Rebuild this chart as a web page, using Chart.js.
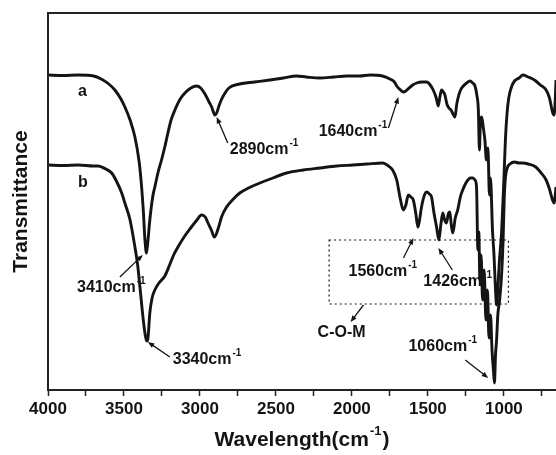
<!DOCTYPE html>
<html>
<head>
<meta charset="utf-8">
<script src="https://cdn.jsdelivr.net/npm/chart.js@4.4.1/dist/chart.umd.min.js"></script>
<style>
  html, body { margin: 0; padding: 0; background: #fff; }
  #wrap { width: 556px; height: 455px; }
</style>
</head>
<body>
<div id="wrap"><canvas id="irChart" width="556" height="455"></canvas></div>
<script>
// FTIR spectra: wavenumber (cm-1) and transmittance (arbitrary units)
const waveA = [4000, 3900, 3800, 3700, 3650, 3600, 3560, 3520, 3494, 3460, 3428, 3400, 3385, 3373, 3362, 3352, 3345, 3330, 3310, 3297,
  3275, 3253, 3230, 3211, 3190, 3165, 3130, 3099, 3060, 3022, 2995, 2967, 2940, 2923, 2901, 2890, 2875, 2860, 2835, 2810,
  2740, 2640, 2540, 2450, 2365, 2300, 2210, 2120, 2035, 1950, 1880, 1800, 1750, 1720, 1705, 1680, 1662, 1645, 1631, 1600,
  1574, 1540, 1508, 1485, 1465, 1445, 1432, 1420, 1410, 1398, 1388, 1375, 1366, 1355, 1344, 1335, 1322, 1310, 1300, 1285,
  1267, 1245, 1223, 1205, 1190, 1178, 1168, 1161, 1155, 1146, 1135, 1125, 1115, 1105, 1095, 1088, 1075, 1065, 1055, 1048,
  1040, 1030, 1015, 1000, 990, 980, 968, 950, 930, 900, 875, 840, 810, 790, 760, 722, 700, 680, 670, 662, 657];
const transA = [315, 314.5, 315, 314, 311, 306, 300, 291, 283, 270, 253, 228, 205, 180, 150, 137, 145, 170, 194, 203,
  218, 230, 244, 257, 270, 280, 291, 297, 302, 304, 302, 296, 288, 283, 275, 277, 284, 290, 297, 302,
  306, 308, 310, 312, 314, 313, 312, 313, 314, 314, 315, 314, 311, 308, 304, 300, 298, 299, 301, 305,
  307, 308, 308, 305, 300, 292, 284, 294, 300, 298, 295, 286, 283, 281, 279, 276, 273, 286, 293, 300,
  304, 307, 309, 307, 304, 295, 280, 240, 265, 273, 262, 250, 230, 242, 195, 212, 160, 135, 100, 85,
  100, 128, 158, 210, 250, 275, 292, 303, 309, 312, 315, 313, 311, 309, 305, 300, 292, 278, 275, 290, 310];

const waveB = [4000, 3900, 3800, 3700, 3670, 3620, 3581, 3550, 3515, 3490, 3460, 3428, 3410, 3395, 3373, 3360, 3350, 3342, 3330, 3315,
  3297, 3270, 3231, 3200, 3170, 3145, 3100, 3056, 3020, 2990, 2965, 2947, 2925, 2905, 2895, 2875, 2858, 2825, 2780, 2738,
  2680, 2606, 2520, 2430, 2320, 2210, 2100, 1995, 1900, 1797, 1760, 1732, 1705, 1684, 1662, 1645, 1629, 1612, 1596, 1580,
  1566, 1555, 1542, 1520, 1508, 1490, 1476, 1460, 1443, 1428, 1415, 1402, 1390, 1378, 1366, 1356, 1346, 1336, 1320, 1304,
  1285, 1271, 1250, 1237, 1220, 1204, 1190, 1180, 1171, 1165, 1158, 1150, 1140, 1130, 1118, 1108, 1098, 1088, 1078, 1068,
  1062, 1055, 1048, 1040, 1028, 1015, 1005, 998, 990, 978, 960, 930, 900, 875, 840, 790, 760, 722, 700, 680, 668, 662, 657];
const transB = [225, 224.5, 225, 224, 224, 221, 217, 209, 197, 185, 170, 143, 125, 103, 70, 55, 49, 52, 77, 92,
  100, 107, 114, 125, 136, 143, 154, 163, 170, 175, 173, 167, 160, 153, 155, 164, 173, 183, 191, 197,
  202, 207, 212, 217, 220, 222, 224, 225, 226, 227, 224, 220, 210, 193, 180, 185, 195, 193, 190, 177,
  163, 170, 183, 196, 198, 196, 193, 177, 163, 150, 165, 177, 170, 167, 176, 178, 165, 157, 172, 180,
  194, 200, 207, 210, 212, 212, 210, 203, 140, 158, 110, 135, 90, 120, 70, 100, 52, 75, 40, 18,
  7, 35, 50, 75, 90, 115, 150, 190, 212, 222, 226, 228, 227, 227, 226, 223, 218, 210, 201, 190, 187, 195, 203];

const xMajorTicks = [4000, 3500, 3000, 2500, 2000, 1500, 1000];
const xMinorTicks = [3750, 3250, 2750, 2250, 1750, 1250, 750];

const FONT = "'Liberation Sans', Arial, Helvetica, sans-serif";
const INK = '#141414';

// label text, superscript, text anchor (wavenumber, T) and arrow from -> to
const notes = [
  { text: 'a', sup: '', at: [3803, 298] },
  { text: 'b', sup: '', at: [3803, 207] },
  { text: '2890cm', sup: '-1', at: [2804, 240], arrow: [2817, 247, 2890, 273] },
  { text: '1640cm', sup: '-1', at: [2219, 258], arrow: [1760, 262, 1694, 293] },
  { text: '3410cm', sup: '-1', at: [3809, 102], arrow: [3527, 113, 3376, 135] },
  { text: '3340cm', sup: '-1', at: [3179, 30], arrow: [3198, 33, 3343, 48] },
  { text: '1560cm', sup: '-1', at: [2022, 118], arrow: [1661, 132, 1595, 152] },
  { text: '1426cm', sup: '-1', at: [1530, 108], arrow: [1339, 120, 1431, 142] },
  { text: 'C-O-M', sup: '', at: [2226, 57], arrow: [1924, 85, 2009, 68] },
  { text: '1060cm', sup: '-1', at: [1628, 43], arrow: [1254, 30, 1103, 12] }
];
const boxRange = { x1: 2150, x2: 970, y1: 150, y2: 86 };

function toXY(xs, ys) {
  return xs.map((x, i) => ({ x: x, y: ys[i] }));
}

function drawArrow(ctx, x1, y1, x2, y2) {
  const ang = Math.atan2(y2 - y1, x2 - x1);
  const head = 7;
  ctx.beginPath();
  ctx.moveTo(x1, y1);
  ctx.lineTo(x2 - Math.cos(ang) * head * 0.8, y2 - Math.sin(ang) * head * 0.8);
  ctx.stroke();
  ctx.beginPath();
  ctx.moveTo(x2, y2);
  ctx.lineTo(x2 - head * Math.cos(ang - 0.38), y2 - head * Math.sin(ang - 0.38));
  ctx.lineTo(x2 - head * Math.cos(ang + 0.38), y2 - head * Math.sin(ang + 0.38));
  ctx.closePath();
  ctx.fill();
}

// text with a small raised part, e.g. cm-1
function drawSupText(ctx, x, y, text, sup, size) {
  ctx.font = 'bold ' + size + 'px ' + FONT;
  ctx.textBaseline = 'middle';
  ctx.textAlign = 'left';
  ctx.fillText(text, x, y);
  const w = ctx.measureText(text).width;
  if (sup) {
    ctx.font = 'bold ' + Math.round(size * 0.6) + 'px ' + FONT;
    ctx.fillText(sup, x + w + 1, y - size * 0.42);
    return w + 1 + ctx.measureText(sup).width;
  }
  return w;
}

const notesPlugin = {
  id: 'notes',
  beforeDatasetsDraw(chart) {
    const { ctx, scales: { x, y } } = chart;
    ctx.save();
    ctx.fillStyle = INK;
    ctx.strokeStyle = INK;
    notes.forEach(n => {
      drawSupText(ctx, x.getPixelForValue(n.at[0]), y.getPixelForValue(n.at[1]), n.text, n.sup, 16);
    });
    ctx.restore();
  },
  afterDatasetsDraw(chart) {
    const { ctx, chartArea: area, scales: { x, y } } = chart;
    ctx.save();
    ctx.fillStyle = INK;
    ctx.strokeStyle = INK;
    ctx.lineWidth = 1.3;
    notes.forEach(n => {
      if (!n.arrow) return;
      const a = n.arrow;
      drawArrow(ctx, x.getPixelForValue(a[0]), y.getPixelForValue(a[1]),
        x.getPixelForValue(a[2]), y.getPixelForValue(a[3]));
    });

    // dotted C-O-M box
    ctx.setLineDash([2, 3]);
    ctx.lineWidth = 1.2;
    const bx1 = x.getPixelForValue(boxRange.x1), bx2 = x.getPixelForValue(boxRange.x2);
    const by1 = y.getPixelForValue(boxRange.y1), by2 = y.getPixelForValue(boxRange.y2);
    ctx.strokeRect(bx1, by1, bx2 - bx1, by2 - by1);
    ctx.setLineDash([]);

    // frame: top, left, bottom
    ctx.lineWidth = 2;
    ctx.strokeStyle = '#222';
    ctx.beginPath();
    ctx.moveTo(area.right, area.top);
    ctx.lineTo(area.left, area.top);
    ctx.lineTo(area.left, area.bottom);
    ctx.lineTo(area.right, area.bottom);
    ctx.stroke();

    // x axis title with superscript
    ctx.fillStyle = INK;
    const cx = (area.left + area.right) / 2;
    ctx.font = 'bold 21px ' + FONT;
    const w1 = ctx.measureText('Wavelength(cm').width;
    ctx.font = 'bold 13px ' + FONT;
    const w2 = ctx.measureText('-1').width + 2;
    ctx.font = 'bold 21px ' + FONT;
    const w3 = ctx.measureText(')').width;
    let tx = cx - (w1 + w2 + w3) / 2;
    const ty = 440;
    drawSupText(ctx, tx, ty, 'Wavelength(cm', '-1', 21);
    ctx.font = 'bold 21px ' + FONT;
    ctx.fillText(')', tx + w1 + w2, ty);
    ctx.restore();
  }
};

const ctx = document.getElementById('irChart').getContext('2d');

new Chart(ctx, {
  type: 'line',
  data: {
    datasets: [{
      label: 'a',
      data: toXY(waveA, transA),
      borderColor: INK,
      borderWidth: 2.9,
      pointRadius: 0,
      cubicInterpolationMode: 'monotone',
      fill: false
    }, {
      label: 'b',
      data: toXY(waveB, transB),
      borderColor: INK,
      borderWidth: 2.9,
      pointRadius: 0,
      cubicInterpolationMode: 'monotone',
      fill: false
    }]
  },
  options: {
    responsive: false,
    animation: false,
    devicePixelRatio: 1,
    layout: { padding: { top: 13, right: 0, left: 0, bottom: 0 } },
    plugins: {
      legend: { display: false },
      tooltip: { enabled: false }
    },
    scales: {
      x: {
        type: 'linear',
        reverse: true,
        min: 657,
        max: 4000,
        afterBuildTicks: function(scale) {
          scale.ticks = xMajorTicks.concat(xMinorTicks)
            .sort((p, q) => p - q)
            .map(v => ({ value: v }));
        },
        afterFit: function(scale) {
          scale.height = 65;
        },
        ticks: {
          autoSkip: false,
          maxRotation: 0,
          padding: 3,
          color: INK,
          font: { family: FONT, size: 17, weight: 'bold' },
          callback: function(value) {
            return xMajorTicks.includes(value) ? String(value) : '';
          }
        },
        grid: {
          drawOnChartArea: false,
          tickLength: 6,
          tickWidth: 1.5,
          tickColor: '#222'
        },
        border: { display: false }
      },
      y: {
        min: 0,
        max: 377,
        afterFit: function(scale) {
          scale.width = 48;
        },
        ticks: { display: false },
        grid: { display: false },
        border: { display: false },
        title: {
          display: true,
          text: 'Transmittance',
          color: INK,
          padding: { top: 9, bottom: 0 },
          font: { family: FONT, size: 21, weight: 'bold' }
        }
      }
    }
  },
  plugins: [notesPlugin]
});
</script>
</body>
</html>
